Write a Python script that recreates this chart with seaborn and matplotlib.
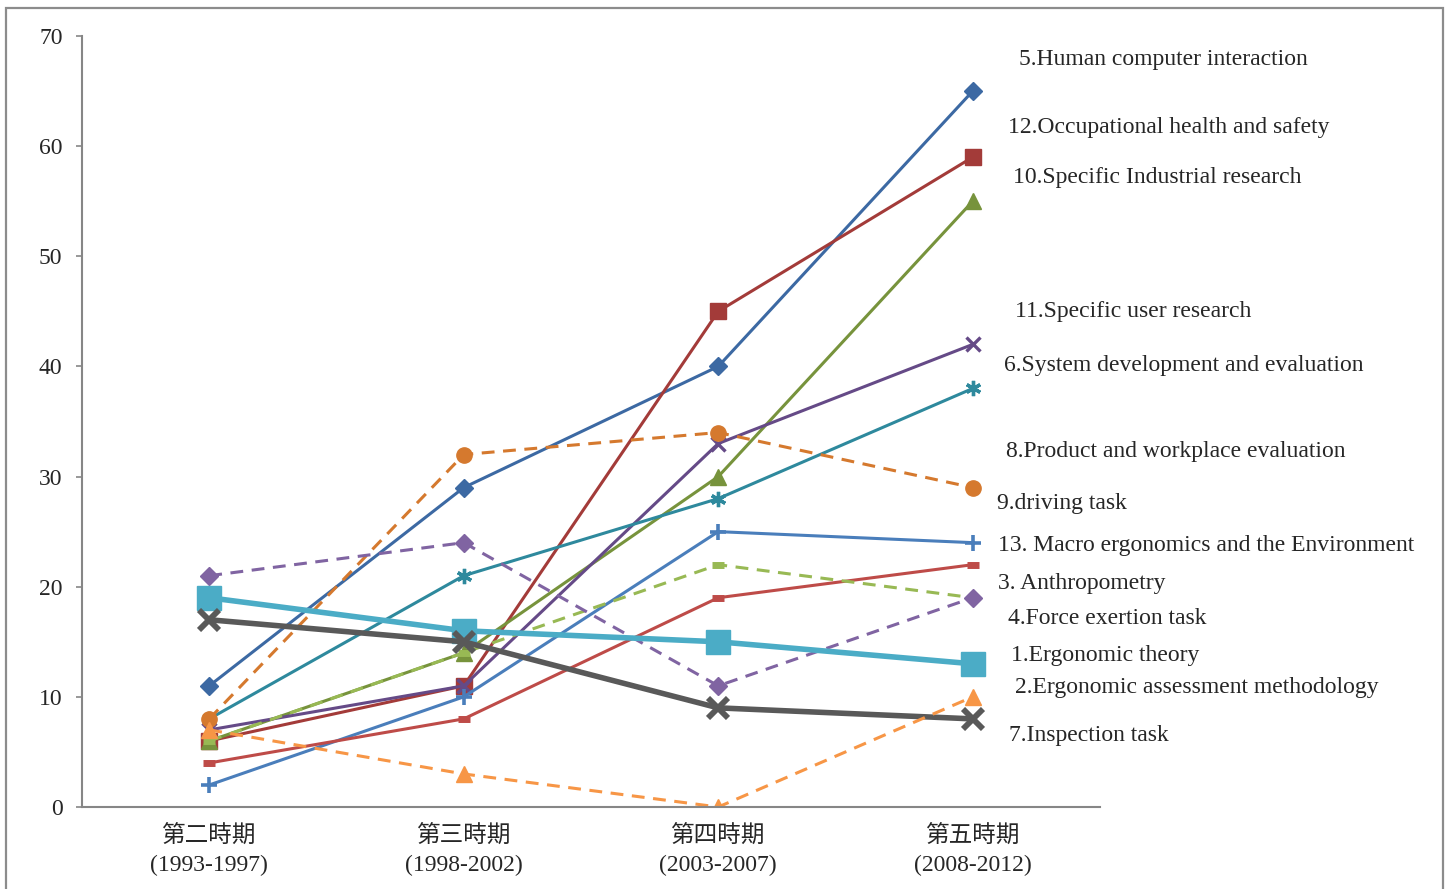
import matplotlib
matplotlib.use("Agg")
import matplotlib.pyplot as plt
from matplotlib.patches import Rectangle
import seaborn as sns
import pandas as pd

sns.set_style("white")
plt.rcParams['font.family'] = ['Liberation Serif', 'Noto Sans CJK TC']

# ---- data ----
periods = ["第二時期\n(1993-1997)", "第三時期\n(1998-2002)",
           "第四時期\n(2003-2007)", "第五時期\n(2008-2012)"]

hci = [11, 29, 40, 65]            # 5. Human computer interaction
ohs = [6, 11, 45, 59]             # 12. Occupational health and safety
industrial = [6, 14, 30, 55]      # 10. Specific Industrial research
user = [7, 11, 33, 42]            # 11. Specific user research
sysdev = [8, 21, 28, 38]          # 6. System development and evaluation
product = [8, 32, 34, 29]         # 8. Product and workplace evaluation
macro = [2, 10, 25, 24]           # 13. Macro ergonomics
anthro = [4, 8, 19, 22]           # 3. Anthropometry
driving = [6, 14, 22, 19]         # 9. driving task
force = [21, 24, 11, 19]          # 4. Force exertion task
theory = [19, 16, 15, 13]         # 1. Ergonomic theory
inspection = [17, 15, 9, 8]       # 7. Inspection task
assessment = [7, 3, 0, 10]        # 2. Ergonomic assessment methodology

label_texts = ["5.Human computer interaction",
               "12.Occupational health and safety",
               "10.Specific Industrial research",
               "11.Specific user research",
               "6.System development and evaluation",
               "8.Product and workplace evaluation",
               "9.driving task",
               "13. Macro ergonomics and the Environment",
               "3. Anthropometry",
               "4.Force exertion task",
               "1.Ergonomic theory",
               "2.Ergonomic assessment methodology",
               "7.Inspection task"]
label_px = [(1019, 59), (1008, 127), (1013, 178), (1015, 311), (1004, 365),
            (1006, 451), (997, 504), (998, 546), (998, 584), (1008, 619),
            (1011, 655), (1015, 688), (1009, 736)]

# series styles: (values, color, dashed, marker, ms, mew, lw)
series = [
    (hci, "#3C69A3", False, "D", 9, 1, 2.2),
    (ohs, "#A33B39", False, "s", 11, 1, 2.2),
    (industrial, "#77933C", False, "^", 12, 1, 2.2),
    (user, "#654A87", False, "x", 10, 2.4, 2.2),
    (sysdev, "#2E899D", False, (6, 2, 0), 11, 2.4, 2.2),
    (product, "#D5792E", True, "o", 11, 1, 2.2),
    (macro, "#4A7EBB", False, "+", 12, 2.6, 2.2),
    (anthro, "#BE4B48", False, "_", 8, 5, 2.2),
    (driving, "#98B954", True, "_", 8, 5, 2.2),
    (force, "#8064A2", True, "D", 9, 1, 2.2),
    (theory, "#4BACC6", False, "s", 17, 1, 4.0),
    (inspection, "#595959", False, "x", 14, 4.2, 4.0),
    (assessment, "#F79646", True, "^", 11, 1, 2.2),
]

fig = plt.figure(figsize=(14.5, 8.89), dpi=100)
ax = fig.add_axes([82/1450, 1-807/889, (1100-82)/1450, (807-36)/889])

x_idx = list(range(len(periods)))
for vals, col, dashed, mk, ms, mew, lw in series:
    df = pd.DataFrame({"x": x_idx, "y": vals})
    sns.lineplot(data=df, x="x", y="y", ax=ax, color=col, linewidth=lw,
                 marker=mk, markersize=ms, markeredgewidth=mew,
                 markeredgecolor=col, markerfacecolor=col)
    if dashed:
        ax.lines[-1].set_dashes((4.2, 2.8))

ax.set_xlim(-0.5, 3.5)
ax.set_ylim(0, 70)
ax.set_xlabel("")
ax.set_ylabel("")
ax.set_yticks(range(0, 71, 10))
ax.set_xticks(x_idx)
ax.set_xticklabels(periods, fontsize=17, linespacing=1.45)
ax.set_xticks([-0.5, 0.5, 1.5, 2.5, 3.5], minor=True)
ax.tick_params(axis="x", which="major", length=0, pad=13)
ax.tick_params(axis="x", which="minor", length=4, width=1.2, color="#868686",
               direction="out")
ax.tick_params(axis="y", which="major", length=4, width=1.2, color="#868686",
               direction="out", labelsize=17, pad=10, left=True)
for s in ["top", "right"]:
    ax.spines[s].set_visible(False)
for s in ["left", "bottom"]:
    ax.spines[s].set_color("#868686")
    ax.spines[s].set_linewidth(1.5)

for txt, (px, py) in zip(label_texts, label_px):
    fig.text(px/1450, 1-py/889, txt, fontsize=17, va="center", ha="left")

fig.patches.append(Rectangle((5.5/1450, -0.05), (1443-5.5)/1450, 1.05-8/889,
                             transform=fig.transFigure, fill=False,
                             edgecolor="#8C8C8C", linewidth=1.6))

fig.savefig("out.png", dpi=100)
